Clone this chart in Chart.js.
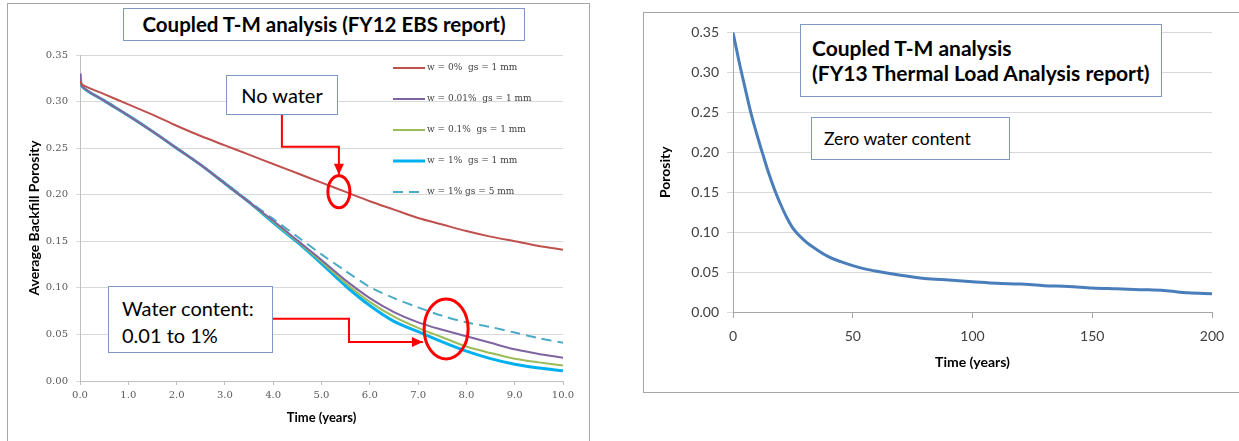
<!DOCTYPE html>
<html>
<head>
<meta charset="utf-8">
<script src="https://cdn.jsdelivr.net/npm/chart.js@4.4.0/dist/chart.umd.min.js"></script>
<style>
  body { margin: 0; background: #fff; width: 1239px; height: 441px; overflow: hidden; position: relative; font-family: Lato, sans-serif; }
  .frame { position: absolute; border: 1px solid #a6a6a6; background: #fff; }
  #leftFrame { left: 7px; top: 3px; width: 581px; height: 445px; }
  #rightFrame { left: 643px; top: 12px; width: 620px; height: 379px; }
  .frame canvas { position: absolute; left: 0; top: 0; }
  .note { position: absolute; background: #fff; border: 1px solid #7e98c3; color: #000; box-sizing: border-box; white-space: nowrap; }
</style>
</head>
<body>
<div class="frame" id="leftFrame"><canvas id="ebs" width="581" height="437"></canvas></div>
<div class="frame" id="rightFrame"><canvas id="thermal" width="595" height="379"></canvas></div>

<div class="note" style="left:123px; top:8px; width:402px; height:33px; font-weight:bold; font-size:20.5px; line-height:31px; text-align:center;">Coupled T-M analysis (FY12 EBS report)</div>
<div class="note" style="left:226px; top:75px; width:112px; height:40px; font-size:20px; line-height:38px; text-align:center;">No water</div>
<div class="note" style="left:108px; top:286px; width:165px; height:67px; font-size:20px; line-height:27px; padding:8px 0 0 13px;">Water content:<br>0.01 to 1%</div>
<div class="note" style="left:800px; top:24px; width:362px; height:73px; font-weight:bold; font-size:21px; line-height:25px; padding:10px 0 0 11px;">Coupled T-M analysis<br>(FY13 Thermal Load Analysis report)</div>
<div class="note" style="left:811px; top:117px; width:199px; height:43px; font-size:17.5px; line-height:41px; padding-left:12px;">Zero water content</div>

<script>
// FY12 EBS report: average backfill porosity vs time (years)
const ebsTime = [0, 0.05, 0.5, 1, 1.5, 2, 2.5, 3, 3.5, 4, 4.5, 5, 5.5, 6, 6.5, 7, 7.5, 8, 8.5, 9, 9.5, 10];
const porosityW0 = [0.322, 0.318, 0.308, 0.297, 0.286, 0.274, 0.263, 0.253, 0.243, 0.233, 0.223, 0.213, 0.203, 0.193, 0.184, 0.175, 0.168, 0.161, 0.155, 0.150, 0.145, 0.141];
const porosityW001 = [0.330, 0.316, 0.301, 0.285, 0.268, 0.250, 0.232, 0.212, 0.192, 0.172, 0.151, 0.130, 0.108, 0.089, 0.074, 0.063, 0.055, 0.048, 0.041, 0.034, 0.029, 0.025];
const porosityW01 = [0.330, 0.316, 0.301, 0.285, 0.268, 0.250, 0.232, 0.212, 0.192, 0.171, 0.150, 0.128, 0.105, 0.085, 0.069, 0.057, 0.047, 0.037, 0.030, 0.024, 0.020, 0.0165];
const porosityW1 = [0.330, 0.316, 0.301, 0.285, 0.268, 0.250, 0.232, 0.212, 0.192, 0.170, 0.149, 0.126, 0.102, 0.081, 0.064, 0.053, 0.042, 0.032, 0.024, 0.018, 0.014, 0.011];
const porosityW1gs5 = [0.330, 0.316, 0.301, 0.285, 0.268, 0.250, 0.232, 0.213, 0.193, 0.174, 0.155, 0.136, 0.118, 0.101, 0.089, 0.079, 0.070, 0.063, 0.058, 0.052, 0.046, 0.041];
const ebsLabels = ['w = 0%  gs = 1 mm', 'w = 0.01%  gs = 1 mm', 'w = 0.1%  gs = 1 mm', 'w = 1%  gs = 1 mm', 'w = 1% gs = 5 mm'];

// FY13 Thermal Load Analysis report: porosity vs time (years), zero water content
const thermalTime = [0, 2.5, 5, 7.5, 10, 12.5, 15, 17.5, 20, 22.5, 25, 30, 35, 40, 45, 50, 55, 60, 70, 80, 90, 100, 110, 120, 130, 140, 150, 160, 170, 180, 190, 200];
const porosityDry = [0.350, 0.314, 0.281, 0.249, 0.222, 0.197, 0.173, 0.152, 0.134, 0.118, 0.105, 0.089, 0.078, 0.069, 0.063, 0.058, 0.054, 0.051, 0.046, 0.042, 0.040, 0.038, 0.036, 0.035, 0.033, 0.032, 0.030, 0.029, 0.028, 0.027, 0.024, 0.023];

const pairs = (xs, ys) => xs.map((x, i) => ({ x: x, y: ys[i] }));

// red call-outs: ellipses and elbow arrows, given in data units
const ebsNotes = {
  ellipses: [
    { x: 5.36, y: 0.2032, rx: 11, ry: 16 },
    { x: 7.58, y: 0.0559, rx: 22, ry: 30 }
  ],
  arrows: [
    [[4.18, 0.286], [4.18, 0.2516], [5.36, 0.2516], [5.36, 0.2215]],
    [[3.996, 0.0667], [5.569, 0.0667], [5.569, 0.0419], [7.10, 0.0419]]
  ]
};

const callouts = {
  id: 'callouts',
  afterDatasetsDraw(chart, args, opts) {
    if (!opts.ellipses) return;
    const ctx = chart.ctx, xs = chart.scales.x, ys = chart.scales.y;
    ctx.save();
    ctx.strokeStyle = '#ff0000';
    ctx.fillStyle = '#ff0000';
    opts.arrows.forEach(path => {
      const p = path.map(q => [xs.getPixelForValue(q[0]), ys.getPixelForValue(q[1])]);
      ctx.lineWidth = 2;
      ctx.beginPath();
      ctx.moveTo(p[0][0], p[0][1]);
      for (let i = 1; i < p.length; i++) ctx.lineTo(p[i][0], p[i][1]);
      ctx.stroke();
      const a = p[p.length - 2], b = p[p.length - 1];
      const ang = Math.atan2(b[1] - a[1], b[0] - a[0]);
      ctx.beginPath();
      ctx.moveTo(b[0], b[1]);
      ctx.lineTo(b[0] - 11 * Math.cos(ang) + 5 * Math.sin(ang), b[1] - 11 * Math.sin(ang) - 5 * Math.cos(ang));
      ctx.lineTo(b[0] - 11 * Math.cos(ang) - 5 * Math.sin(ang), b[1] - 11 * Math.sin(ang) + 5 * Math.cos(ang));
      ctx.closePath();
      ctx.fill();
    });
    ctx.lineWidth = 3;
    opts.ellipses.forEach(e => {
      ctx.beginPath();
      ctx.ellipse(xs.getPixelForValue(e.x), ys.getPixelForValue(e.y), e.rx, e.ry, 0, 0, Math.PI * 2);
      ctx.stroke();
    });
    ctx.restore();
  }
};

// Excel style legend sitting inside the plot area
const inlineLegend = {
  id: 'inlineLegend',
  afterDatasetsDraw(chart, args, opts) {
    if (!opts.show) return;
    const ctx = chart.ctx, area = chart.chartArea;
    ctx.save();
    ctx.font = '9px "DejaVu Serif"';
    ctx.textBaseline = 'middle';
    ctx.fillStyle = '#404040';
    chart.data.datasets.forEach((ds, i) => {
      const y = area.top + opts.top + i * opts.step;
      const x = area.left + opts.left;
      ctx.strokeStyle = ds.borderColor;
      ctx.lineWidth = ds.borderWidth;
      ctx.setLineDash(ds.borderDash || []);
      ctx.beginPath();
      ctx.moveTo(x, y);
      ctx.lineTo(x + 32, y);
      ctx.stroke();
      ctx.fillText(ds.label, x + 34, y);
    });
    ctx.restore();
  }
};

const serifTicks = { family: 'DejaVu Serif', size: 10 };

new Chart(document.getElementById('ebs'), {
  type: 'line',
  data: {
    datasets: [
      { label: ebsLabels[0], data: pairs(ebsTime, porosityW0), borderColor: '#c0504d', borderWidth: 2 },
      { label: ebsLabels[1], data: pairs(ebsTime, porosityW001), borderColor: '#8064a2', borderWidth: 2 },
      { label: ebsLabels[2], data: pairs(ebsTime, porosityW01), borderColor: '#9bbb59', borderWidth: 2 },
      { label: ebsLabels[3], data: pairs(ebsTime, porosityW1), borderColor: '#00b0f0', borderWidth: 3 },
      { label: ebsLabels[4], data: pairs(ebsTime, porosityW1gs5), borderColor: '#4bacc6', borderWidth: 2, borderDash: [10, 6] }
    ]
  },
  options: {
    responsive: false,
    animation: false,
    elements: { point: { radius: 0 }, line: { tension: 0.3 } },
    layout: { padding: { left: 0, right: 26, top: 51, bottom: 0 } },
    plugins: {
      legend: { display: false },
      tooltip: { enabled: false },
      callouts: ebsNotes,
      inlineLegend: { show: true, left: 313, top: 13, step: 31 }
    },
    scales: {
      x: {
        type: 'linear', min: 0, max: 10,
        ticks: { stepSize: 1, callback: v => v.toFixed(1), font: serifTicks, color: '#595959', padding: 4, maxRotation: 0 },
        grid: { drawOnChartArea: false, tickLength: 4, color: '#bfbfbf' },
        border: { color: '#bfbfbf' },
        title: { display: true, text: 'Time (years)', color: '#000', font: { family: 'Lato', size: 13, weight: 'bold' }, padding: { top: 0, bottom: 15 } },
        afterFit: s => { s.height = 60; }
      },
      y: {
        min: 0, max: 0.35,
        ticks: { stepSize: 0.05, callback: v => v.toFixed(2), font: serifTicks, color: '#595959', padding: 8 },
        grid: { color: '#d9d9d9', tickLength: 4 },
        border: { color: '#bfbfbf' },
        title: { display: true, text: 'Average Backfill Porosity', color: '#000', font: { family: 'Lato', size: 14, weight: 'bold' }, padding: { top: 18, bottom: 0 } },
        afterFit: s => { s.width = 72; }
      }
    }
  },
  plugins: [callouts, inlineLegend]
});

new Chart(document.getElementById('thermal'), {
  type: 'line',
  data: {
    datasets: [
      { label: 'Porosity', data: pairs(thermalTime, porosityDry), borderColor: '#4a7ebb', borderWidth: 3 }
    ]
  },
  options: {
    responsive: false,
    animation: false,
    elements: { point: { radius: 0 }, line: { cubicInterpolationMode: 'monotone' } },
    layout: { padding: { left: 0, right: 27, top: 19.5, bottom: 0 } },
    plugins: { legend: { display: false }, tooltip: { enabled: false } },
    scales: {
      x: {
        type: 'linear', min: 0, max: 200,
        ticks: { stepSize: 50, font: { family: 'Lato', size: 14 }, color: '#404040', padding: 10.5, maxRotation: 0 },
        grid: { drawOnChartArea: false, tickLength: 6, color: '#a6a6a6' },
        border: { color: '#a6a6a6' },
        title: { display: true, text: 'Time (years)', color: '#000', font: { family: 'Lato', size: 14, weight: 'bold' }, padding: { top: 0, bottom: 21.5 } },
        afterFit: s => { s.height = 80; }
      },
      y: {
        min: 0, max: 0.35,
        ticks: { stepSize: 0.05, callback: v => v.toFixed(2), font: { family: 'Lato', size: 14 }, color: '#404040', padding: 8 },
        grid: { color: '#d9d9d9', tickLength: 6 },
        border: { color: '#a6a6a6' },
        title: { display: true, text: 'Porosity', color: '#000', font: { family: 'Lato', size: 14, weight: 'bold' }, padding: { top: 12.6, bottom: 0 } },
        afterFit: s => { s.width = 89; }
      }
    }
  }
});
</script>
</body>
</html>
